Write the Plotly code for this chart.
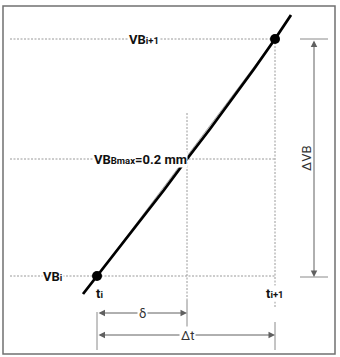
import plotly.graph_objects as go

# ---- data (diagram coordinates, y upward) ----
t_i, t_mid, t_ip1 = 97, 187, 275            # time marks
VB_i, VB_Bmax, VB_ip1 = 81, 198, 318         # wear levels
curve_t = [83, 97, 120, 140, 164, 187, 210, 232, 254, 275, 291]  # wear curve
curve_vb = [63, 81, 110, 136, 167, 198, 228, 258, 288, 318, 342]
point_t = [t_i, t_ip1]
point_vb = [VB_i, VB_ip1]
labels_vb = ["VB<span style='font-size:9.5px'>i+1</span>",
             "VB<span style='font-size:9.5px'>Bmax</span>=0.2 mm",
             "VB<span style='font-size:9.5px'>i</span>"]
labels_t = ["t<span style='font-size:9.5px'>i</span>",
            "t<span style='font-size:9.5px'>i+1</span>"]

W, H = 340, 357
FONT = "Roboto"
DOT = dict(color="#9a9a9a", width=1, dash="2px,1.5px")
GRAY = dict(color="#8a8a8a", width=1)

fig = go.Figure()

# chord (thin gray)
fig.add_trace(go.Scatter(x=point_t, y=point_vb, mode="lines",
                         line=dict(color="#a8a8a8", width=1), hoverinfo="skip"))
# wear curve
fig.add_trace(go.Scatter(x=curve_t, y=curve_vb, mode="lines",
                         line=dict(color="black", width=2.8), hoverinfo="skip"))
# points
fig.add_trace(go.Scatter(x=point_t, y=point_vb, mode="markers",
                         marker=dict(color="black", size=10), hoverinfo="skip"))

shapes = []
# border
shapes.append(dict(type="rect", x0=3, x1=335, y0=3, y1=351,
                   line=dict(color="#707070", width=1.5)))
# horizontal dotted guides
for vb in [VB_i, VB_Bmax, VB_ip1]:
    shapes.append(dict(type="line", x0=10, x1=t_ip1, y0=vb, y1=vb, line=DOT, layer="below"))
# vertical dotted guides
shapes.append(dict(type="line", x0=t_mid, x1=t_mid, y0=244, y1=57, line=DOT, layer="below"))
shapes.append(dict(type="line", x0=t_ip1, x1=t_ip1, y0=VB_ip1, y1=50, line=DOT, layer="below"))
# vertical solid extension lines
shapes.append(dict(type="line", x0=t_i, x1=t_i, y0=45, y1=7, line=GRAY))
shapes.append(dict(type="line", x0=t_mid, x1=t_mid, y0=57, y1=29, line=GRAY))
shapes.append(dict(type="line", x0=t_ip1, x1=t_ip1, y0=35, y1=7, line=GRAY))
# ΔVB extension ticks
shapes.append(dict(type="line", x0=300, x1=328, y0=VB_ip1, y1=VB_ip1, line=GRAY))
shapes.append(dict(type="line", x0=300, x1=328, y0=VB_i - 1, y1=VB_i - 1, line=GRAY))

anns = []
# dimension arrows
def arrow(x0, y0, x1, y1):
    anns.append(dict(x=x1, y=y1, ax=x0, ay=y0, xref="x", yref="y", axref="x", ayref="y",
                     showarrow=True, arrowhead=2, arrowside="end+start", arrowsize=1.3,
                     arrowwidth=1, arrowcolor="#606060", text=""))

arrow(t_i, 44, t_mid, 44)
arrow(t_i, 22, t_ip1, 22)
arrow(314, VB_ip1, 314, VB_i - 1)

def label(x, y, text, size=13, xanchor="center"):
    anns.append(dict(x=x, y=y, xref="x", yref="y", text=text, showarrow=False,
                     xanchor=xanchor, yanchor="middle", bgcolor="white", borderpad=0,
                     font=dict(family=FONT, size=size, color="#111", weight=700)))

label(144, VB_ip1, labels_vb[0])
label(188, VB_Bmax, labels_vb[1], xanchor="right")
label(53, VB_i, labels_vb[2])
label(99, 64, labels_t[0])
label(t_ip1, 64, labels_t[1])
anns.append(dict(x=142, y=44, xref="x", yref="y", text="δ", showarrow=False,
                 bgcolor="white", font=dict(family=FONT, size=13, color="#333")))
anns.append(dict(x=187, y=22, xref="x", yref="y", text="Δt", showarrow=False,
                 bgcolor="white", font=dict(family=FONT, size=13, color="#333")))
anns.append(dict(x=306, y=199, xref="x", yref="y", text="ΔVB", showarrow=False,
                 textangle=-90, font=dict(family=FONT, size=13, color="#333")))

fig.update_layout(
    width=W, height=H, margin=dict(l=0, r=0, t=0, b=0),
    paper_bgcolor="white", plot_bgcolor="white", showlegend=False,
    xaxis=dict(range=[0, W], visible=False, fixedrange=True),
    yaxis=dict(range=[0, H], visible=False, fixedrange=True),
    shapes=shapes, annotations=anns,
)
fig.write_html("out.html")
